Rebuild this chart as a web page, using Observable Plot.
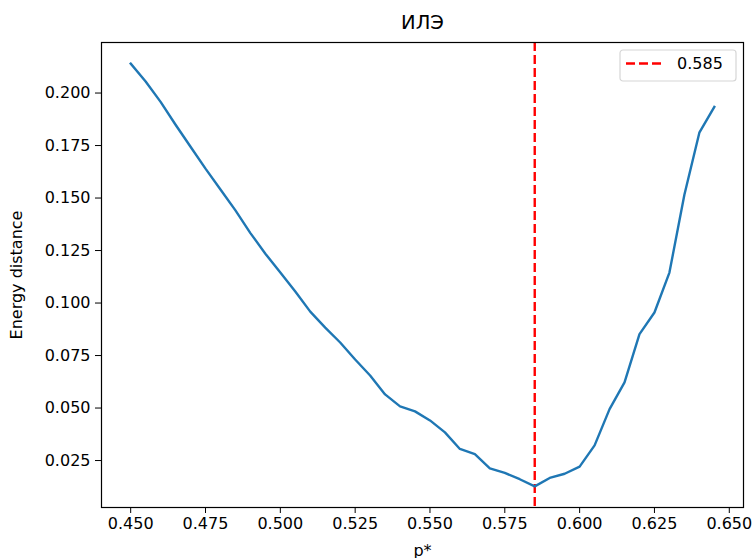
<!DOCTYPE html>
<html>
<head>
<meta charset="utf-8">
<script src="https://cdn.jsdelivr.net/npm/d3@7"></script>
<script src="https://cdn.jsdelivr.net/npm/@observablehq/plot@0.6"></script>
<style>
  html, body { margin: 0; padding: 0; background: #fff; }
  #chart { width: 756px; height: 558px; }
  svg { font-family: "DejaVu Sans", sans-serif; }
</style>
</head>
<body>
<div id="chart"></div>
<script>
const pStar = [0.450, 0.455, 0.460, 0.465, 0.470, 0.475, 0.480, 0.485, 0.490, 0.495,
               0.500, 0.505, 0.510, 0.515, 0.520, 0.525, 0.530, 0.535, 0.540, 0.545,
               0.550, 0.555, 0.560, 0.565, 0.570, 0.575, 0.580, 0.585, 0.590, 0.595,
               0.600, 0.605, 0.610, 0.615, 0.620, 0.625, 0.630, 0.635, 0.640, 0.645];
const energy = [0.2140, 0.2055, 0.1958, 0.1849, 0.1744, 0.1640, 0.1541, 0.1441, 0.1333, 0.1235,
                0.1145, 0.1055, 0.0959, 0.0883, 0.0812, 0.0731, 0.0655, 0.0565, 0.0508, 0.0484,
                0.0441, 0.0384, 0.0305, 0.0281, 0.0213, 0.0191, 0.0161, 0.0127, 0.0167, 0.0187,
                0.0221, 0.0322, 0.0495, 0.0622, 0.0852, 0.0955, 0.1145, 0.1516, 0.1811, 0.1934];
const bestP = [0.585];
const xTicks = [0.450, 0.475, 0.500, 0.525, 0.550, 0.575, 0.600, 0.625, 0.650];
const yTicks = [0.025, 0.050, 0.075, 0.100, 0.125, 0.150, 0.175, 0.200];
const titleText = "ИЛЭ";
const xLabel = "p*";
const yLabel = "Energy distance";
const legendLabel = "0.585";

const data = pStar.map((p, i) => ({p, e: energy[i]}));

function padded(vals) {
  const [a, b] = d3.extent(vals);
  const m = (b - a) * 0.05;
  return [a - m, b + m];
}

const W = 756, H = 558;
const mL = 101, mR = 13, mT = 42, mB = 51;

const chart = Plot.plot({
  width: W,
  height: H,
  marginLeft: mL,
  marginRight: mR,
  marginTop: mT,
  marginBottom: mB,
  style: {fontFamily: "DejaVu Sans, sans-serif", fontSize: "16px", color: "#000", background: "#fff"},
  x: {domain: padded(pStar)},
  y: {domain: padded(energy)},
  marks: [
    Plot.ruleX(bestP, {stroke: "red", strokeWidth: 2.4, strokeDasharray: "9,4"}),
    Plot.line(data, {x: "p", y: "e", stroke: "#1f77b4", strokeWidth: 2.4, strokeLinejoin: "round", strokeLinecap: "square"}),
    Plot.frame({stroke: "#000", strokeWidth: 1.2}),
    Plot.axisX({ticks: xTicks, tickFormat: d3.format(".3f"), tickSize: 6, tickPadding: 4,
      fontSize: 16, label: xLabel, labelAnchor: "center", labelArrow: "none", labelOffset: 48, stroke: "#000"}),
    Plot.axisY({ticks: yTicks, tickFormat: d3.format(".3f"), tickSize: 6, tickPadding: 5,
      fontSize: 16, label: yLabel, labelAnchor: "center", labelArrow: "none", labelOffset: 91, stroke: "#000"}),
    Plot.text([titleText], {frameAnchor: "top", dy: -20, fontSize: 19.5, fill: "#000", lineAnchor: "middle"})
  ]
});

document.getElementById("chart").appendChild(chart);

// legend box (top-right of the axes)
const svg = d3.select(chart);
const lg = svg.append("g").attr("transform", `translate(${W - mR - 123},${mT + 8})`);
lg.append("rect").attr("x", 0).attr("y", 0).attr("width", 116).attr("height", 31)
  .attr("rx", 3).attr("fill", "#fff").attr("fill-opacity", 0.8)
  .attr("stroke", "#d6d6d6").attr("stroke-width", 1.2);
lg.append("line").attr("x1", 6).attr("x2", 43).attr("y1", 13.5).attr("y2", 13.5)
  .attr("stroke", "red").attr("stroke-width", 2.4).attr("stroke-dasharray", "9,4");
lg.append("text").attr("x", 57).attr("y", 13.5).attr("dy", "0.35em")
  .attr("text-anchor", "start")
  .attr("font-size", 16).attr("fill", "#000").text(legendLabel);
</script>
</body>
</html>
